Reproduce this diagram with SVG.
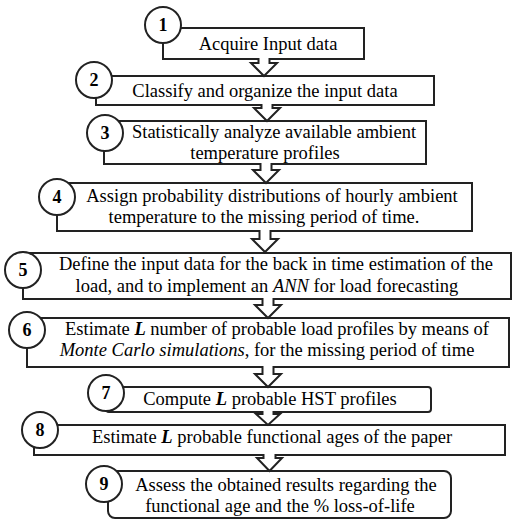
<svg xmlns="http://www.w3.org/2000/svg" width="517" height="524" viewBox="0 0 517 524">
<style>
.box{fill:#fff;stroke:#222;stroke-width:2}
.num{fill:#fff;stroke:#222;stroke-width:2}
text{font-family:'Liberation Serif','Times New Roman',serif;fill:#000;text-anchor:middle}
.t{font-size:18.5px}
.n{font-size:18px;font-weight:bold}
.arr{fill:#fff;stroke:#222;stroke-width:2;stroke-linejoin:miter}
.i{font-style:italic}
.bi{font-style:italic;font-weight:bold}
</style>
<rect width="517" height="524" fill="#fff"/>
<g id="node1"><rect class="box" x="163" y="28" width="201" height="31"/><circle class="num" cx="163" cy="25" r="18"/><text class="n" x="163" y="31">1</text><text class="t" x="268" y="50">Acquire Input data</text></g>
<g id="node2"><rect class="box" x="96" y="76" width="338" height="29"/><circle class="num" cx="94" cy="80" r="18"/><text class="n" x="94" y="86">2</text><text class="t" x="265" y="97">Classify and organize the input data</text></g>
<g id="node3"><rect class="box" x="104" y="121" width="322" height="43"/><circle class="num" cx="105" cy="133" r="18"/><text class="n" x="105" y="139">3</text><text class="t" x="274" y="138">Statistically analyze available ambient</text><text class="t" x="265" y="159">temperature profiles</text></g>
<g id="node4"><rect class="box" x="57" y="183" width="415" height="48"/><circle class="num" cx="57" cy="197" r="18"/><text class="n" x="57" y="203">4</text><text class="t" x="272" y="202">Assign probability distributions of hourly ambient</text><text class="t" x="264" y="223">temperature to the missing period of time.</text></g>
<g id="node5"><rect class="box" x="23" y="253" width="488" height="46"/><circle class="num" cx="23" cy="270" r="18"/><text class="n" x="23" y="276">5</text><text class="t" x="276" y="270">Define the input data for the back in time estimation of the</text><text class="t" x="267" y="292">load, and to implement an <tspan class="i">ANN</tspan> for load forecasting</text></g>
<g id="node6"><rect class="box" x="27" y="318" width="482" height="49"/><circle class="num" cx="27" cy="330" r="18"/><text class="n" x="27" y="336">6</text><text class="t" x="277" y="335">Estimate <tspan class="bi">L</tspan> number of probable load profiles by means of</text><text class="t" x="267" y="356"><tspan class="i">Monte Carlo simulations</tspan>, for the missing period of time</text></g>
<g id="node7"><rect class="box" x="106" y="387" width="325" height="25" rx="3"/><circle class="num" cx="106" cy="393" r="18"/><text class="n" x="106" y="399">7</text><text class="t" x="270" y="405">Compute <tspan class="bi">L</tspan> probable HST profiles</text></g>
<g id="node8"><rect class="box" x="34" y="425" width="471" height="30"/><circle class="num" cx="40" cy="430" r="18"/><text class="n" x="40" y="436">8</text><text class="t" x="272" y="443">Estimate <tspan class="bi">L</tspan> probable functional ages of the paper</text></g>
<g id="node9"><rect class="box" x="108" y="471" width="343" height="47" rx="7"/><circle class="num" cx="104" cy="484" r="18"/><text class="n" x="104" y="490">9</text><text class="t" x="286" y="491">Assess the obtained results regarding the</text><text class="t" x="280" y="512">functional age and the % loss-of-life</text></g>
<g id="connectors">
<path class="arr" d="M258.5,58 V63 H251 L264,76 L277,63 H269.5 V58"/>
<path class="arr" d="M261.5,104 V108 H254 L267,121 L280,108 H272.5 V104"/>
<path class="arr" d="M260.5,163 V170 H253 L266,183 L279,170 H271.5 V163"/>
<path class="arr" d="M259.5,230 V239 H252 L265,252 L278,239 H270.5 V230"/>
<path class="arr" d="M262.5,298 V305 H255 L268,318 L281,305 H273.5 V298"/>
<path class="arr" d="M262.5,366 V374 H255 L268,387 L281,374 H273.5 V366"/>
<path class="arr" d="M262.5,411 V414 H256 L268,425 L280,414 H273.5 V411"/>
<path class="arr" d="M263.5,454 V458 H257 L269.5,471 L282,458 H275.5 V454"/>
</g>
</svg>
